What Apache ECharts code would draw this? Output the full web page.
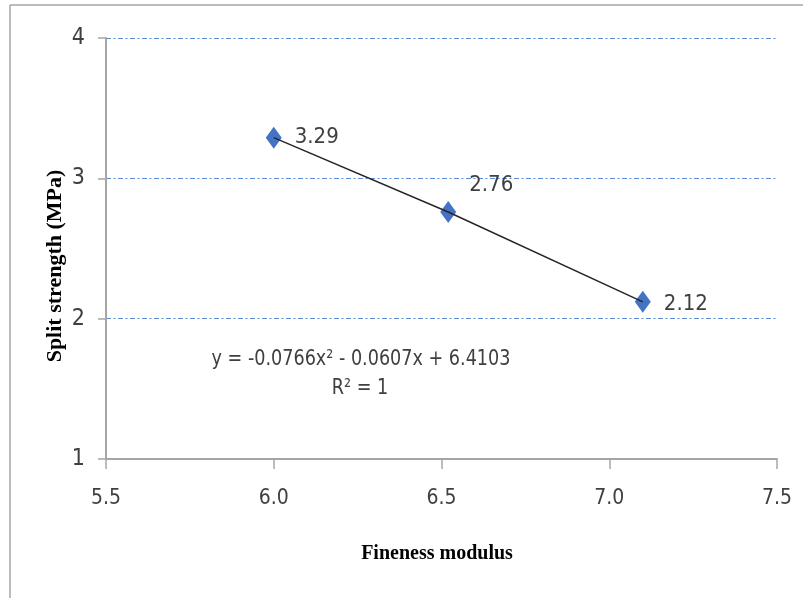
<!DOCTYPE html>
<html>
<head>
<meta charset="utf-8">
<script src="https://cdn.jsdelivr.net/npm/echarts@6/dist/echarts.min.js"></script>
<style>
  html, body { margin: 0; padding: 0; background: #fff; }
  #chart { width: 803px; height: 598px; }
</style>
</head>
<body>
<div id="chart"></div>
<script>
// data
var fineness = [6.0, 6.52, 7.1];
var splitStrength = [3.29, 2.76, 2.12];
var valueLabels = ['3.29', '2.76', '2.12'];
var xTicks = [5.5, 6.0, 6.5, 7.0, 7.5];
var yTicks = [1, 2, 3, 4];
var equationText = 'y = -0.0766x² - 0.0607x + 6.4103';
var r2Text = 'R² = 1';

var narrow = "'Liberation Sans Narrow', 'DejaVu Sans Condensed', sans-serif";
var serif = "'Liberation Serif', 'DejaVu Serif', serif";

var chart = echarts.init(document.getElementById('chart'));

// per point label offsets (2.76 sits above right)
var labelOffsets = [[0, 0], [0, -27], [0, 2]];

var scatterData = fineness.map(function (x, i) {
  return {
    value: [x, splitStrength[i]],
    label: { offset: labelOffsets[i], formatter: valueLabels[i] }
  };
});
var lineData = fineness.map(function (x, i) { return [x, splitStrength[i]]; });

var option = {
  animation: false,
  grid: { left: 106, right: 26, top: 38, bottom: 139 },
  xAxis: {
    type: 'value',
    min: xTicks[0],
    max: xTicks[xTicks.length - 1],
    interval: 0.5,
    axisLine: { show: true, lineStyle: { color: '#a6a6a6', width: 2 } },
    axisTick: { show: true, length: 10, lineStyle: { color: '#a6a6a6', width: 1.5 } },
    axisLabel: {
      margin: 29,
      fontFamily: narrow,
      fontSize: 21,
      color: '#404040',
      formatter: function (v) { return v.toFixed(1); }
    },
    splitLine: { show: false }
  },
  yAxis: {
    type: 'value',
    min: yTicks[0],
    max: yTicks[yTicks.length - 1],
    interval: 1,
    axisLine: { show: true, lineStyle: { color: '#a6a6a6', width: 2 } },
    axisTick: { show: true, length: 8, lineStyle: { color: '#a6a6a6', width: 1.5 } },
    axisLabel: {
      margin: 21,
      fontFamily: narrow,
      fontSize: 23,
      color: '#404040'
    },
    splitLine: {
      show: true,
      lineStyle: { color: '#5b8ad6', width: 1, type: [5, 2.5, 2, 2.5] }
    }
  },
  graphic: [
    // frame around the figure
    { type: 'line', shape: { x1: 10, y1: 5, x2: 803, y2: 5 }, style: { stroke: '#a6a6a6', lineWidth: 1.5 } },
    { type: 'line', shape: { x1: 10, y1: 5, x2: 10, y2: 598 }, style: { stroke: '#a6a6a6', lineWidth: 1.5 } },
    // axis titles
    {
      type: 'text', x: 437, y: 554,
      style: { text: 'Fineness modulus', font: 'bold 20px ' + serif, fill: '#000', align: 'center', verticalAlign: 'middle' }
    },
    {
      type: 'text', x: 55, y: 266, rotation: Math.PI / 2,
      style: { text: 'Split strength (MPa)', font: 'bold 22px ' + serif, fill: '#000', align: 'center', verticalAlign: 'middle' }
    },
    // trendline equation
    {
      type: 'text', x: 361, y: 359, scaleX: 0.89,
      style: { text: equationText, font: '22px ' + narrow, fill: '#404040', align: 'center', verticalAlign: 'middle' }
    },
    {
      type: 'text', x: 360, y: 388, scaleX: 0.89,
      style: { text: r2Text, font: '22px ' + narrow, fill: '#404040', align: 'center', verticalAlign: 'middle' }
    }
  ],
  series: [
    {
      type: 'scatter',
      symbol: 'diamond',
      symbolSize: [16, 22],
      itemStyle: { color: '#4472c4', opacity: 1 },
      label: {
        show: true,
        position: 'right',
        distance: 13,
        fontFamily: narrow,
        fontSize: 22,
        color: '#404040'
      },
      data: scatterData,
      z: 2
    },
    {
      // polynomial trendline
      type: 'line',
      showSymbol: false,
      symbol: 'none',
      lineStyle: { color: '#262626', width: 1.5 },
      data: lineData,
      z: 3
    }
  ]
};

chart.setOption(option);
</script>
</body>
</html>
